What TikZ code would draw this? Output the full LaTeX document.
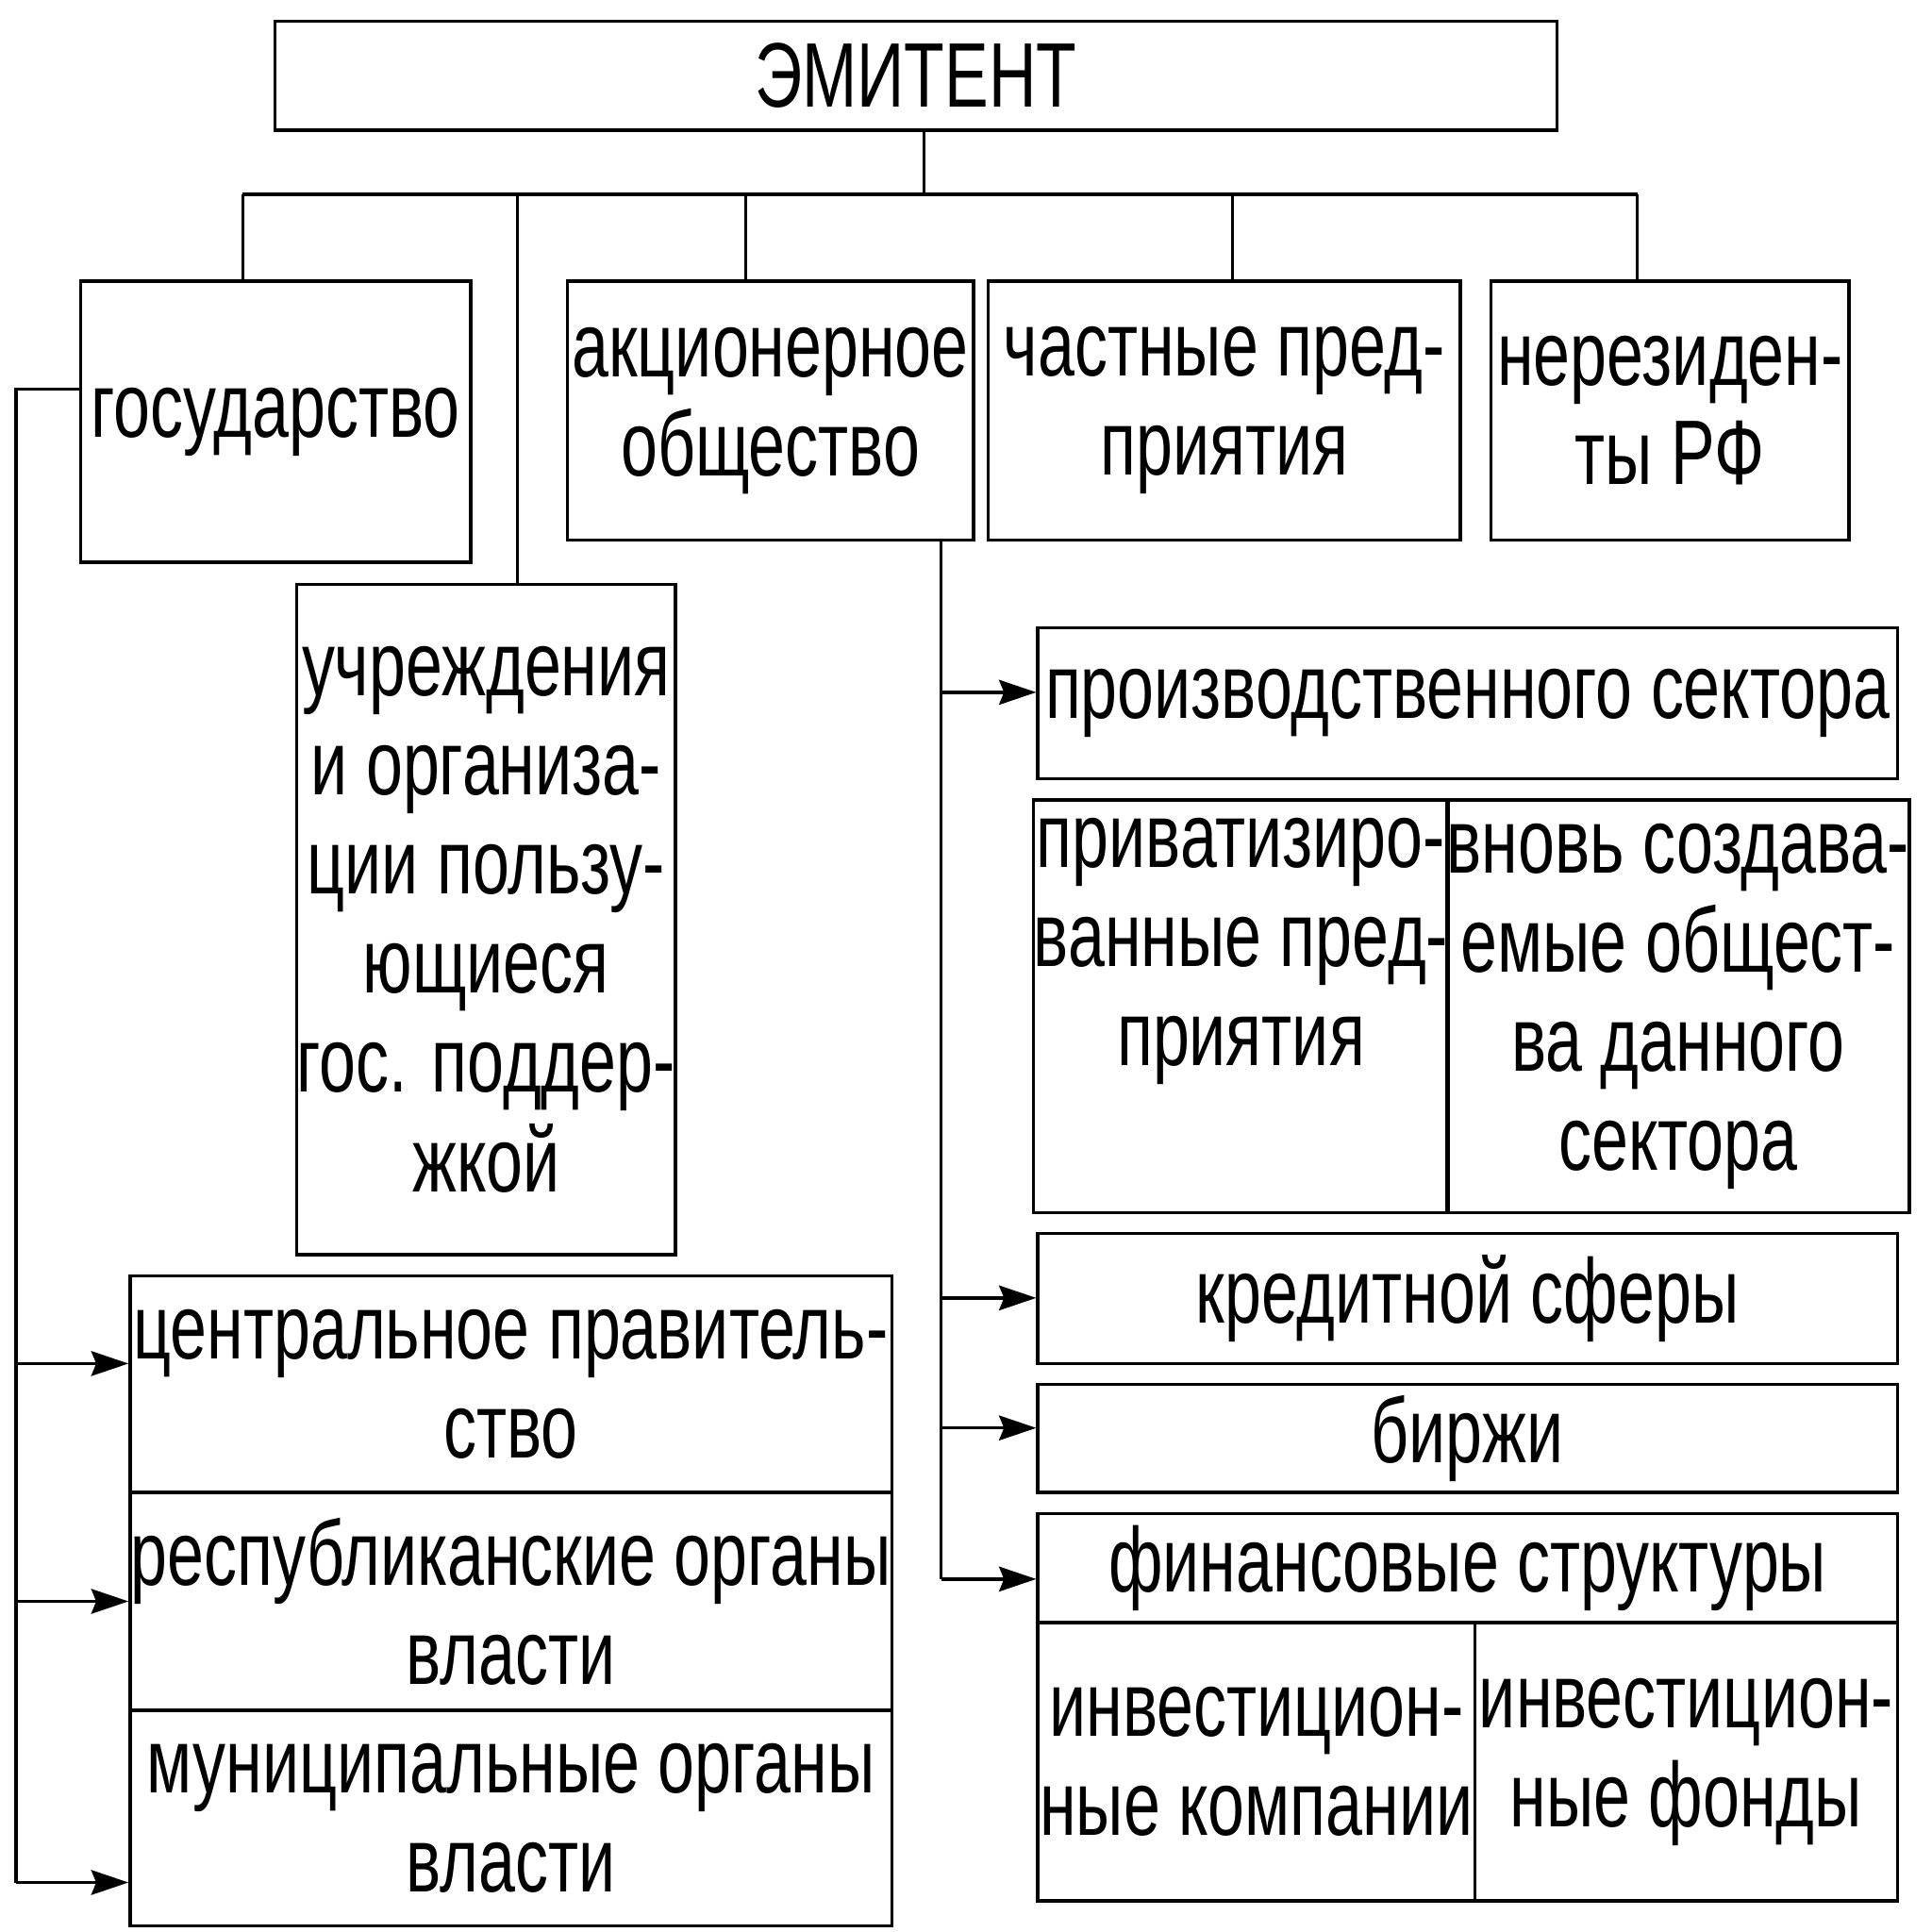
\documentclass[tikz,border=0pt]{standalone}
\usepackage{fontspec}
\setmainfont{Liberation Sans}[FakeStretch=0.72]
\usetikzlibrary{arrows.meta}
\tikzset{bx/.style={draw,line width=1.3pt,inner sep=0pt,align=center,font=\fontsize{37}{40}\selectfont},
 ln/.style={line width=1.3pt},
 ar/.style={line width=1.3pt,-{Stealth[length=15pt,width=10pt,inset=2pt]}}}
\newcommand\bx[6]{\node[bx,minimum width={(#4-#2)*0.5pt},minimum height={(#5-#3)*0.5pt}] (#1) at ({(#2+#4)/2},{(#3+#5)/2}) {#6};}
\begin{document}
\begin{tikzpicture}[x=0.5pt,y=-0.5pt]
\useasboundingbox (0,0) rectangle (1560,1560);
\bx{em}{222}{17}{1257}{105}{ЭМИТЕНТ}
\bx{gos}{65}{227}{380}{454}{государство}
\bx{ao}{458}{227}{786}{436}{акционерное\\общество}
\bx{ch}{798}{227}{1179}{436}{частные пред-\\приятия}
\bx{nr}{1204}{227}{1493}{436}{нерезиден-\\ты РФ}
\bx{uch}{248}{472}{537}{1013}{учреждения\\и организа-\\ции пользу-\\ющиеся\\гос. поддер-\\жкой}
\bx{c1}{105}{1030}{720}{1205}{центральное правитель-\\ство}
\bx{c2}{105}{1205}{720}{1381}{республиканские органы\\власти}
\bx{c3}{105}{1381}{720}{1555}{муниципальные органы\\власти}
\bx{pr}{838}{507}{1532}{629}{производственного сектора}
\bx{pv}{838}{646}{1166}{979}{приватизиро-\\ванные пред-\\приятия\\[12pt]}
\bx{vn}{1178}{646}{1532}{979}{вновь создава-\\емые общест-\\ва данного\\сектора}
\bx{kr}{838}{996}{1532}{1101}{кредитной сферы}
\bx{bi}{838}{1118}{1532}{1205}{биржи}
\bx{fi}{838}{1222}{1532}{1310}{финансовые структуры}
\bx{ik}{838}{1310}{1191}{1535}{инвестицион-\\ные компании}
\bx{if}{1191}{1310}{1532}{1535}{инвестицион-\\ные фонды}
\coordinate (b0) at (196,157); \coordinate (b1) at (1322,157);
\draw[ln] (em.south -| 746,0) -- (746,157);
\draw[ln] (b0) -- (b1);
\draw[ln] (b0) -- (gos.north -| b0);
\draw[ln] (418,157) -- (uch.north -| 418,0);
\draw[ln] (602,157) -- (ao.north -| 602,0);
\draw[ln] (995,157) -- (ch.north -| 995,0);
\draw[ln] (b1) -- (nr.north -| b1);
\coordinate (l0) at (13,314);
\draw[ln] (gos.west |- l0) -- (l0) -- (13,1520);
\draw[ar] (13,1101) -- (c1.west |- 0,1101);
\draw[ar] (13,1293) -- (c2.west |- 0,1293);
\draw[ar] (13,1520) -- (c3.west |- 0,1520);
\draw[ln] (ao.south -| 760,0) -- (760,1275);
\draw[ar] (760,559) -- (pr.west |- 0,559);
\draw[ar] (760,1048) -- (kr.west |- 0,1048);
\draw[ar] (760,1153) -- (bi.west |- 0,1153);
\draw[ar] (760,1275) -- (fi.west |- 0,1275);
\end{tikzpicture}
\end{document}
